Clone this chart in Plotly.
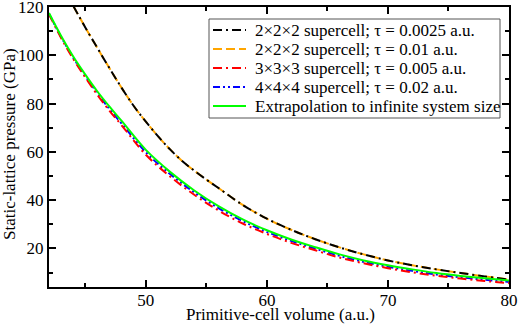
import plotly.graph_objects as go

# Data
vol_2x2x2 = [44.0, 45, 46, 47, 48, 49, 50, 51, 52, 53, 54, 55, 56, 58, 60, 62, 64, 66, 68, 70, 72, 74, 76, 78, 80]
p_2x2x2_tau0025 = [120.5, 111.5, 103.0, 94.6, 86.5, 79.0, 72.5, 66.5, 61.0, 56.2, 52.2, 48.5, 45.0,
                   38.0, 32.3, 27.7, 23.8, 20.4, 17.5, 15.0, 13.0, 11.3, 9.8, 8.4, 7.1]
p_2x2x2_tau01 = [120.5, 111.5, 103.0, 94.6, 86.5, 79.0, 72.5, 66.5, 61.0, 56.2, 52.2, 48.5, 45.0,
                 38.0, 32.3, 27.7, 23.8, 20.4, 17.5, 15.0, 13.0, 11.3, 9.8, 8.4, 7.1]

vol = [42, 43, 44, 45, 46, 47, 48, 50, 52, 54, 56, 58, 60, 62, 64, 66, 68, 70, 72, 74, 76, 78, 80]
p_3x3x3 = [117.0, 107.2, 98.5, 90.8, 83.6, 77.0, 71.0, 58.8, 49.8, 42.2, 35.7, 30.3, 26.0,
           22.3, 19.2, 16.2, 13.8, 11.8, 10.1, 8.7, 7.5, 6.5, 5.6]
p_4x4x4 = [117.2, 107.6, 99.0, 91.4, 84.3, 77.7, 71.7, 59.8, 50.8, 43.2, 36.7, 31.3, 26.8,
           23.1, 19.9, 16.9, 14.4, 12.4, 10.7, 9.2, 8.0, 7.0, 6.1]
p_extrap = [117.5, 108.0, 99.5, 92.0, 85.0, 78.7, 72.8, 60.8, 51.7, 44.0, 37.5, 32.0, 27.5,
            23.7, 20.5, 17.5, 15.0, 13.0, 11.3, 9.8, 8.6, 7.6, 6.7]

names = ["2×2×2 supercell; τ = 0.0025 a.u.",
         "2×2×2 supercell; τ = 0.01 a.u.",
         "3×3×3 supercell; τ = 0.005 a.u.",
         "4×4×4 supercell; τ = 0.02 a.u.",
         "Extrapolation to infinite system size"]
x_title = "Primitive-cell volume (a.u.)"
y_title = "Static-lattice pressure (GPa)"

FONT = "Liberation Serif, Times New Roman, serif"
FS = 17
W, H = 520, 324
ML, MR, MT, MB = 49, 11, 7, 37

styles = {
    names[0]: dict(color="black", width=2, dash="9px,4px,2px,4px"),
    names[1]: dict(color="#ffa500", width=2, dash="9px,4px"),
    names[2]: dict(color="red", width=2, dash="9px,4px,2px,4px"),
    names[3]: dict(color="blue", width=2, dash="7px,3px,2px,3px,2px,3px"),
    names[4]: dict(color="#00ff00", width=2),
}

fig = go.Figure()
for n, xs, ys in [(names[1], vol_2x2x2, p_2x2x2_tau01),
                  (names[0], vol_2x2x2, p_2x2x2_tau0025),
                  (names[3], vol, p_4x4x4),
                  (names[2], vol, p_3x3x3),
                  (names[4], vol, p_extrap)]:
    fig.add_trace(go.Scatter(x=xs, y=ys, name=n, mode="lines",
                             line=dict(shape="spline", **styles[n]), showlegend=False))


def px(x):  # pixel -> paper x
    return (x - ML) / (W - ML - MR)


def py(y):  # pixel -> paper y
    return 1 - (y - MT) / (H - MT - MB)


# legend drawn by hand so the row spacing matches the original
shapes = [dict(type="rect", xref="paper", yref="paper", x0=px(209), x1=px(500),
               y0=py(118), y1=py(19), fillcolor="white",
               line=dict(color="#555555", width=1))]
annotations = []
for i, n in enumerate(names):
    yy = 30 + 19 * i
    shapes.append(dict(type="line", xref="paper", yref="paper", x0=px(213), x1=px(246),
                       y0=py(yy), y1=py(yy), line=styles[n]))
    annotations.append(dict(text=n, xref="paper", yref="paper", x=px(253), y=py(yy),
                            xanchor="left", yanchor="middle", showarrow=False,
                            font=dict(family=FONT, size=FS, color="black")))

# axis titles placed as in the original
annotations.append(dict(text=x_title, xref="paper", yref="paper", x=px(280), y=py(314),
                        xanchor="center", yanchor="middle", showarrow=False,
                        font=dict(family=FONT, size=FS, color="black")))
annotations.append(dict(text=y_title, xref="paper", yref="paper", x=px(9), y=py(144),
                        xanchor="center", yanchor="middle", showarrow=False, textangle=-90,
                        font=dict(family=FONT, size=FS, color="black")))

axis_common = dict(showline=True, linecolor="black", linewidth=2, mirror="allticks",
                   ticks="inside", ticklen=7, tickwidth=1.5, tickcolor="black",
                   showgrid=False, zeroline=False, automargin=False,
                   ticklabeloverflow="allow",
                   tickfont=dict(family=FONT, size=FS, color="black"))

fig.update_layout(
    width=W, height=H,
    margin=dict(l=ML, r=MR, t=MT, b=MB),
    plot_bgcolor="white", paper_bgcolor="white",
    font=dict(family=FONT, size=FS, color="black"),
    xaxis=dict(range=[42, 80], tick0=0, dtick=10, ticklabelstandoff=-3,
               minor=dict(dtick=5, ticks="inside", ticklen=4, tickcolor="black"),
               **axis_common),
    yaxis=dict(range=[4, 120], tick0=0, dtick=20,
               minor=dict(dtick=10, ticks="inside", ticklen=4, tickcolor="black"),
               **axis_common),
    shapes=shapes,
    annotations=annotations,
    showlegend=False,
)

# the page's default 8px body margin would push the figure off the window
fig.write_html("out.html", config={"displayModeBar": False},
               post_script="document.body.style.margin='0px';")
